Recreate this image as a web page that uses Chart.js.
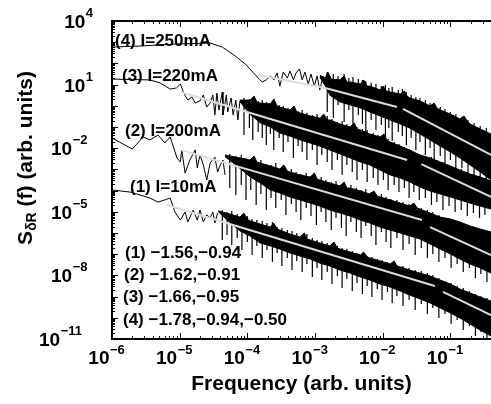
<!DOCTYPE html>
<html>
<head>
<meta charset="utf-8">
<script src="https://cdn.jsdelivr.net/npm/chart.js@4"></script>
<style>
  html, body { margin: 0; padding: 0; background: #fff; }
  canvas { display: block; }
</style>
</head>
<body>
<canvas id="c" width="491" height="404"></canvas>
<script>
// ---------- data (all values are log10 exponents) ----------
const xTickExps = [-6, -5, -4, -3, -2, -1];
const yTickExps = [4, 1, -2, -5, -8, -11];
const curveLabels = ['(1) I=10mA', '(2) I=200mA', '(3) I=220mA', '(4) I=250mA'];
const slopeLabels = ['(1) \u22121.56,\u22120.94', '(2) \u22121.62,\u22120.91', '(3) \u22121.66,\u22120.95', '(4) \u22121.78,\u22120.94,\u22120.50'];
const xTitle = 'Frequency (arb. units)';

// curve 4 : I=250mA
const c4LowF = [-6.00,-5.59,-5.07,-4.55,-4.37,-4.18,-4.03,-3.92,-3.84,-3.78,-3.72,-3.66,-3.61,-3.56,-3.52,-3.47,-3.41,-3.37,-3.32,-3.28,-3.23,-3.19,-3.15,-3.10,-3.06,-3.01,-2.97,-2.93,-2.88];
const c4LowS = [2.77,2.82,2.91,2.96,2.77,2.35,1.97,1.59,1.31,1.12,1.22,1.41,1.22,1.55,0.93,1.59,1.31,1.64,1.22,1.55,1.74,1.22,1.59,1.03,1.50,0.93,1.41,0.75,1.41];
const c4UpF = [-2.93,-2.85,-2.81,-2.76,-2.63,-2.57,-2.53,-2.48,-2.33,-2.28,-2.23,-2.19,-2.04,-1.99,-1.95,-1.89,-1.74,-1.68,-1.64,-1.60,-1.45,-1.30,-1.24,-1.20,-1.15,-1.00,-0.86,-0.80,-0.75,-0.71,-0.56,-0.40];
const c4UpS = [1.45,1.31,1.59,1.26,1.22,1.41,1.12,1.12,1.03,1.22,0.93,0.93,0.75,0.93,0.70,0.65,0.56,0.70,0.46,0.37,0.23,-0.01,0.13,-0.10,-0.20,-0.39,-0.62,-0.48,-0.72,-0.86,-1.09,-1.33];
const c4LoF = [-2.93,-2.85,-2.78,-2.63,-2.48,-2.33,-2.19,-2.04,-1.89,-1.74,-1.60,-1.45,-1.30,-1.15,-1.00,-0.86,-0.71,-0.56,-0.40];
const c4LoS = [1.35,0.95,0.50,0.18,0.04,-0.10,-0.29,-0.48,-0.67,-0.86,-1.05,-1.33,-1.61,-1.90,-2.18,-2.46,-2.79,-3.12,-3.50];
const c4SpkF = [-2.82,-2.73,-2.66,-2.57,-2.50,-2.44,-2.36,-2.30,-2.25,-2.17,-2.10,-2.02,-1.96,-1.91,-1.86,-1.77,-1.71,-1.65,-1.58,-1.51,-1.45,-1.37,-1.30,-1.24,-1.15,-1.08,-1.00,-0.92,-0.83,-0.74,-0.65,-0.56,-0.47];
const c4SpkHi = [1.59,1.50,1.41,1.50,1.31,1.36,1.26,1.22,1.17,1.08,1.03,0.93,0.98,0.84,0.89,0.75,0.79,0.65,0.51,0.42,0.37,0.27,0.13,0.08,-0.06,-0.15,-0.29,-0.39,-0.53,-0.67,-0.81,-0.95,-1.05];
const c4SpkLo = [-0.29,-0.58,0.04,-0.76,-0.20,-1.05,-0.43,-0.86,-1.28,-0.67,-1.14,-0.91,-1.52,-1.05,-1.66,-1.24,-1.42,-1.85,-1.52,-2.08,-1.71,-2.32,-1.99,-2.56,-2.37,-2.79,-2.56,-3.03,-2.93,-3.41,-3.31,-3.59,-3.69];
const c4FitF = [-3.84,-2.85, -2.85,-1.79, -1.70,-0.40];
const c4FitS = [1.45,0.84, 0.84,-0.06, -0.15,-2.32];

// curve 3 : I=220mA
const c3LowF = [-6.00,-5.44,-5.29,-5.14,-5.05,-4.99,-4.94,-4.88,-4.82,-4.77,-4.70,-4.65,-4.60,-4.55,-4.51,-4.48,-4.45,-4.42,-4.37,-4.36,-4.31,-4.29,-4.24,-4.21,-4.17,-4.14,-4.11];
const c3LowS = [1.26,1.22,1.08,0.79,0.84,1.03,0.60,0.27,0.42,0.13,0.23,0.51,-0.06,0.13,0.51,-0.43,0.60,-0.20,0.65,-0.43,0.51,-0.29,0.37,-0.43,0.27,-0.67,0.23];
const c3UpF = [-4.11,-3.96,-3.90,-3.86,-3.81,-3.66,-3.61,-3.56,-3.52,-3.37,-3.31,-3.27,-3.22,-3.07,-2.93,-2.87,-2.82,-2.78,-2.63,-2.48,-2.42,-2.38,-2.33,-2.19,-2.04,-1.98,-1.94,-1.89,-1.74,-1.60,-1.45,-1.30,-1.15,-1.00,-0.86,-0.71,-0.56,-0.40];
const c3UpS = [0.27,0.27,0.46,0.18,0.13,0.09,0.32,-0.01,-0.06,-0.20,-0.01,-0.29,-0.34,-0.48,-0.58,-0.39,-0.67,-0.67,-0.86,-1.00,-0.81,-1.09,-1.14,-1.33,-1.47,-1.33,-1.61,-1.71,-1.90,-2.09,-2.32,-2.46,-2.65,-2.84,-3.03,-3.22,-3.36,-3.55];
const c3LoF = [-4.11,-3.96,-3.81,-3.66,-3.52,-3.37,-3.22,-3.07,-2.93,-2.78,-2.63,-2.48,-2.33,-2.19,-2.04,-1.89,-1.74,-1.60,-1.45,-1.30,-1.15,-1.00,-0.86,-0.71,-0.56,-0.40];
const c3LoS = [0.20,-0.40,-0.80,-1.00,-1.28,-1.43,-1.61,-1.76,-1.90,-2.09,-2.27,-2.46,-2.65,-2.79,-3.03,-3.26,-3.41,-3.59,-3.83,-4.02,-4.16,-4.30,-4.44,-4.59,-4.73,-4.87];
const c3SpkF = [-4.05,-3.97,-3.92,-3.84,-3.78,-3.72,-3.66,-3.61,-3.53,-3.47,-3.40,-3.32,-3.25,-3.19,-3.12,-3.04,-2.97,-2.90,-2.82,-2.75,-2.67,-2.60,-2.53,-2.45,-2.38,-2.30,-2.23,-2.14,-2.07,-1.99,-1.92,-1.83,-1.76,-1.68,-1.61,-1.54,-1.46,-1.37,-1.28,-1.20,-1.11,-1.02,-0.93,-0.84,-0.75,-0.66,-0.57,-0.49];
const c3SpkHi = [0.37,0.32,0.42,0.23,0.27,0.18,0.13,0.32,0.04,-0.01,-0.10,-0.06,-0.25,-0.20,-0.34,-0.43,-0.39,-0.53,-0.48,-0.62,-0.76,-0.72,-0.86,-0.91,-1.00,-1.09,-1.14,-1.28,-1.38,-1.42,-1.57,-1.71,-1.80,-1.94,-2.04,-2.18,-2.27,-2.37,-2.42,-2.56,-2.65,-2.79,-2.89,-2.98,-3.12,-3.22,-3.31,-3.41];
const c3SpkLo = [-1.38,-1.05,-1.61,-1.24,-1.52,-1.85,-1.33,-2.08,-1.52,-2.18,-1.71,-2.46,-1.90,-2.18,-2.56,-2.08,-2.79,-2.32,-2.65,-3.03,-2.56,-3.26,-2.79,-3.12,-3.50,-3.03,-3.59,-3.41,-3.74,-3.50,-3.97,-3.74,-4.07,-3.88,-4.35,-4.07,-4.44,-4.35,-4.68,-4.54,-4.92,-4.73,-5.01,-4.92,-5.20,-5.06,-5.29,-5.15];
const c3FitF = [-4.99,-1.64, -1.43,-0.40];
const c3FitS = [0.65,-2.56, -2.75,-4.30];

// curve 2 : I=200mA
const c2LowF = [-6.00,-5.70,-5.54,-5.44,-5.32,-5.22,-5.14,-5.04,-4.99,-4.97,-4.92,-4.85,-4.77,-4.74,-4.70,-4.65,-4.60,-4.55,-4.48,-4.44,-4.40,-4.36,-4.33];
const c2LowS = [-1.52,-2.04,-1.47,-1.61,-1.38,-1.75,-1.47,-2.46,-2.65,-2.08,-3.17,-2.56,-2.08,-2.93,-2.32,-2.79,-3.50,-2.70,-2.42,-3.12,-2.79,-2.56,-3.26];
const c2UpF = [-4.33,-4.11,-3.96,-3.90,-3.86,-3.81,-3.66,-3.52,-3.46,-3.41,-3.37,-3.22,-3.07,-3.01,-2.97,-2.93,-2.78,-2.63,-2.57,-2.53,-2.48,-2.33,-2.19,-2.13,-2.08,-2.04,-1.89,-1.74,-1.60,-1.54,-1.49,-1.45,-1.30,-1.15,-1.00,-0.86,-0.71,-0.56,-0.40];
const c2UpS = [-2.32,-2.46,-2.56,-2.37,-2.65,-2.70,-2.84,-2.98,-2.79,-3.08,-3.12,-3.26,-3.36,-3.17,-3.45,-3.50,-3.64,-3.78,-3.59,-3.88,-3.88,-4.02,-4.16,-4.02,-4.26,-4.30,-4.44,-4.59,-4.73,-4.59,-4.82,-4.87,-5.06,-5.25,-5.34,-5.48,-5.67,-5.81,-5.95];
const c2LoF = [-4.33,-4.11,-3.96,-3.81,-3.66,-3.52,-3.37,-3.22,-3.07,-2.93,-2.78,-2.63,-2.48,-2.33,-2.19,-2.04,-1.89,-1.74,-1.60,-1.45,-1.30,-1.15,-1.00,-0.86,-0.71,-0.56,-0.40];
const c2LoS = [-2.40,-2.95,-3.35,-3.64,-3.97,-4.11,-4.30,-4.44,-4.59,-4.73,-4.92,-5.06,-5.20,-5.39,-5.53,-5.72,-5.86,-6.00,-6.14,-6.28,-6.52,-6.76,-6.99,-7.23,-7.46,-7.65,-7.89];
const c2SpkF = [-4.26,-4.17,-4.09,-4.02,-3.95,-3.87,-3.80,-3.72,-3.65,-3.58,-3.50,-3.43,-3.35,-3.28,-3.21,-3.13,-3.06,-2.98,-2.91,-2.84,-2.76,-2.69,-2.61,-2.54,-2.47,-2.39,-2.32,-2.25,-2.17,-2.10,-2.02,-1.95,-1.88,-1.79,-1.70,-1.61,-1.52,-1.43,-1.34,-1.26,-1.17,-1.08,-0.99,-0.90,-0.81,-0.72,-0.63,-0.55,-0.46];
const c2SpkHi = [-2.27,-2.37,-2.32,-2.46,-2.51,-2.60,-2.56,-2.75,-2.79,-2.70,-2.93,-3.03,-2.98,-3.12,-3.22,-3.17,-3.31,-3.41,-3.36,-3.50,-3.59,-3.55,-3.69,-3.78,-3.74,-3.88,-3.97,-3.92,-4.07,-4.21,-4.16,-4.30,-4.40,-4.44,-4.54,-4.63,-4.73,-4.82,-4.92,-5.01,-5.15,-5.29,-5.39,-5.48,-5.58,-5.72,-5.81,-5.91,-6.00];
const c2SpkLo = [-3.88,-4.21,-3.74,-4.44,-3.97,-4.68,-4.16,-4.92,-4.35,-4.82,-4.44,-5.15,-4.63,-5.01,-5.39,-4.82,-5.20,-5.62,-5.01,-5.48,-5.86,-5.29,-5.76,-6.14,-5.48,-5.95,-6.24,-5.67,-6.14,-6.57,-5.95,-6.42,-6.71,-6.24,-6.80,-6.52,-7.04,-6.71,-7.18,-6.99,-7.37,-7.18,-7.65,-7.46,-7.84,-7.65,-8.12,-7.93,-8.31];
const c2FitF = [-4.99,-1.42, -1.30,-0.40];
const c2FitS = [-2.08,-5.39, -5.72,-7.04];

// curve 1 : I=10mA
const c1LowF = [-6.00,-5.73,-5.44,-5.32,-5.22,-5.14,-5.07,-4.99,-4.92,-4.88,-4.80,-4.74,-4.70,-4.65,-4.60,-4.55,-4.51,-4.48,-4.44];
const c1LowS = [-3.97,-4.07,-4.35,-4.54,-4.44,-4.35,-5.01,-5.39,-5.01,-5.48,-4.92,-5.39,-4.92,-5.48,-5.15,-5.29,-5.01,-5.53,-5.06];
const c1UpF = [-4.43,-4.26,-4.11,-4.05,-4.00,-3.96,-3.81,-3.66,-3.61,-3.56,-3.52,-3.37,-3.22,-3.16,-3.12,-3.07,-2.93,-2.78,-2.72,-2.67,-2.63,-2.48,-2.33,-2.28,-2.23,-2.19,-2.04,-1.89,-1.83,-1.79,-1.74,-1.60,-1.45,-1.30,-1.15,-1.00,-0.86,-0.71,-0.56,-0.40];
const c1UpS = [-4.96,-5.10,-5.25,-5.06,-5.34,-5.43,-5.58,-5.72,-5.53,-5.81,-5.86,-6.05,-6.19,-6.00,-6.28,-6.33,-6.47,-6.61,-6.43,-6.71,-6.76,-6.90,-7.04,-6.90,-7.13,-7.18,-7.32,-7.46,-7.32,-7.56,-7.60,-7.75,-7.89,-8.03,-8.22,-8.41,-8.64,-8.83,-9.02,-9.21];
const c1LoF = [-4.43,-4.26,-4.11,-3.96,-3.81,-3.66,-3.52,-3.37,-3.22,-3.07,-2.93,-2.78,-2.63,-2.48,-2.33,-2.19,-2.04,-1.89,-1.74,-1.60,-1.45,-1.30,-1.15,-1.00,-0.86,-0.71,-0.56,-0.40];
const c1LoS = [-5.00,-5.50,-5.90,-6.14,-6.47,-6.61,-6.76,-6.94,-7.09,-7.23,-7.42,-7.56,-7.75,-7.89,-8.08,-8.22,-8.41,-8.55,-8.74,-8.93,-9.11,-9.30,-9.54,-9.77,-10.01,-10.29,-10.58,-10.86];
const c1SpkF = [-4.37,-4.30,-4.23,-4.15,-4.08,-4.00,-3.93,-3.86,-3.78,-3.71,-3.63,-3.56,-3.49,-3.41,-3.34,-3.27,-3.19,-3.12,-3.04,-2.97,-2.90,-2.82,-2.75,-2.67,-2.60,-2.53,-2.45,-2.38,-2.30,-2.23,-2.16,-2.08,-2.01,-1.93,-1.86,-1.79,-1.70,-1.61,-1.52,-1.43,-1.34,-1.26,-1.17,-1.08,-0.99,-0.90,-0.81,-0.72,-0.63,-0.55,-0.46];
const c1SpkHi = [-4.92,-5.01,-4.96,-5.10,-5.15,-5.20,-5.34,-5.39,-5.43,-5.53,-5.48,-5.72,-5.76,-5.86,-5.91,-6.00,-6.09,-6.05,-6.24,-6.33,-6.38,-6.47,-6.52,-6.61,-6.71,-6.75,-6.85,-6.94,-6.99,-7.08,-7.13,-7.23,-7.27,-7.37,-7.42,-7.51,-7.56,-7.65,-7.75,-7.79,-7.89,-7.98,-8.12,-8.26,-8.36,-8.50,-8.59,-8.74,-8.88,-8.97,-9.07];
const c1SpkLo = [-6.33,-6.09,-6.57,-6.24,-6.80,-6.42,-7.04,-6.61,-7.18,-6.80,-7.37,-6.94,-7.56,-7.18,-7.75,-7.32,-7.84,-7.46,-8.08,-7.65,-8.22,-7.84,-8.41,-8.03,-8.59,-8.17,-8.74,-8.36,-8.88,-8.50,-9.02,-8.64,-9.16,-8.78,-9.30,-8.97,-9.44,-9.16,-9.63,-9.35,-9.82,-9.54,-10.01,-9.82,-10.29,-10.10,-10.58,-10.39,-10.86,-10.67,-10.95];
const c1FitF = [-5.19,-1.23, -1.11,-0.40];
const c1FitS = [-4.68,-8.50, -8.78,-9.87];

// axis ranges (exponents)
const xRangeExp = [-6, -0.4];
const yRangeExp = [-11, 4];

// ---------- build datasets ----------
const P = v => Math.pow(10, v);
const pts = (fs, ss) => fs.map((f, i) => ({ x: P(f), y: P(ss[i]) }));
const spikePts = (fs, hi, lo) => {
  const out = [];
  fs.forEach((f, i) => { out.push({ x: P(f), y: P(hi[i]) }, { x: P(f), y: P(lo[i]) }, { x: P(f), y: null }); });
  return out;
};
const curves = [
  { lowF: c1LowF, lowS: c1LowS, upF: c1UpF, upS: c1UpS, loF: c1LoF, loS: c1LoS, spF: c1SpkF, spH: c1SpkHi, spL: c1SpkLo, fitF: c1FitF, fitS: c1FitS },
  { lowF: c2LowF, lowS: c2LowS, upF: c2UpF, upS: c2UpS, loF: c2LoF, loS: c2LoS, spF: c2SpkF, spH: c2SpkHi, spL: c2SpkLo, fitF: c2FitF, fitS: c2FitS },
  { lowF: c3LowF, lowS: c3LowS, upF: c3UpF, upS: c3UpS, loF: c3LoF, loS: c3LoS, spF: c3SpkF, spH: c3SpkHi, spL: c3SpkLo, fitF: c3FitF, fitS: c3FitS },
  { lowF: c4LowF, lowS: c4LowS, upF: c4UpF, upS: c4UpS, loF: c4LoF, loS: c4LoS, spF: c4SpkF, spH: c4SpkHi, spL: c4SpkLo, fitF: c4FitF, fitS: c4FitS }
];
const datasets = [];
curves.forEach(c => {
  datasets.push({ data: pts(c.upF, c.upS), borderColor: '#000', borderWidth: 1, fill: false, order: 3 });
  datasets.push({ data: pts(c.loF, c.loS), borderColor: '#000', borderWidth: 1, backgroundColor: '#000', fill: '-1', order: 3 });
  datasets.push({ data: spikePts(c.spF, c.spH, c.spL), borderColor: '#000', borderWidth: 1.2, fill: false, spanGaps: false, order: 2 });
  datasets.push({ data: pts(c.lowF, c.lowS), borderColor: '#000', borderWidth: 1, fill: false, order: 1 });
  for (let i = 0; i < c.fitF.length; i += 2) {
    datasets.push({ data: pts(c.fitF.slice(i, i + 2), c.fitS.slice(i, i + 2)), borderColor: '#dcdcdc', borderWidth: 2, fill: false, order: 0 });
  }
});

// ---------- decorations (axes, ticks, labels, titles) ----------
const FONT = '"Liberation Sans", Arial, Helvetica, sans-serif';
const fmtExp = e => (e < 0 ? '\u2212' + (-e) : String(e));
const decor = {
  id: 'decor',
  afterDraw(chart) {
    const { ctx, chartArea: a, scales: { x, y } } = chart;
    ctx.save();
    ctx.fillStyle = '#000';
    ctx.strokeStyle = '#000';
    ctx.lineWidth = 1;
    ctx.beginPath();
    for (let e = -7; e <= 1; e++) for (let m = 1; m <= 9; m++) {
      const v = m * P(e);
      if (v < x.min * 0.9999 || v > x.max * 1.0001) continue;
      const px = Math.round(x.getPixelForValue(v)) + 0.5;
      const len = m === 1 ? 6 : 3;
      ctx.moveTo(px, a.bottom); ctx.lineTo(px, a.bottom - len);
      ctx.moveTo(px, a.top); ctx.lineTo(px, a.top + len);
    }
    for (let e = -11; e <= 4; e++) for (let m = 1; m <= 9; m++) {
      const v = m * P(e);
      if (v < y.min * 0.9999 || v > y.max * 1.0001) continue;
      const py = Math.round(y.getPixelForValue(v)) + 0.5;
      const len = m === 1 ? 6 : 3;
      ctx.moveTo(a.left, py); ctx.lineTo(a.left + len, py);
    }
    ctx.stroke();
    ctx.lineWidth = 2;
    ctx.beginPath();
    ctx.moveTo(a.right + 2, a.top); ctx.lineTo(a.left, a.top);
    ctx.lineTo(a.left, a.bottom); ctx.lineTo(a.right + 2, a.bottom);
    ctx.stroke();

    const baseFont = 'bold 19px ' + FONT;
    const expFont = 'bold 13px ' + FONT;
    ctx.textBaseline = 'alphabetic';
    yTickExps.forEach(e => {
      const s = fmtExp(e);
      const py = y.getPixelForValue(P(e));
      const right = 93 - (s.length - 1) * 5.5;
      ctx.font = expFont;
      const ew = ctx.measureText(s).width;
      ctx.textAlign = 'left';
      ctx.fillText(s, right - ew, py - 4);
      ctx.font = baseFont;
      ctx.textAlign = 'right';
      ctx.fillText('10', right - ew - 0.5, py + 7);
    });
    xTickExps.forEach(e => {
      const s = fmtExp(e);
      const px = x.getPixelForValue(P(e));
      ctx.font = baseFont;
      ctx.textAlign = 'right';
      ctx.fillText('10', px - 2.5, a.bottom + 25);
      ctx.font = expFont;
      ctx.textAlign = 'left';
      ctx.fillText(s, px - 2, a.bottom + 15);
    });
    ctx.font = 'bold 21px ' + FONT;
    ctx.textAlign = 'center';
    ctx.fillText(xTitle, (a.left + a.right) / 2, 390);
    ctx.save();
    ctx.translate(32, 158);
    ctx.rotate(-Math.PI / 2);
    ctx.textAlign = 'left';
    const mainF = 'bold 21px ' + FONT, subF = 'bold 14px ' + FONT;
    ctx.font = mainF; const w1 = ctx.measureText('S').width;
    ctx.font = subF; const w2 = ctx.measureText('\u03b4R').width;
    ctx.font = mainF; const w3 = ctx.measureText(' (f) (arb. units)').width;
    let tx = -(w1 + w2 + w3) / 2;
    ctx.font = mainF; ctx.fillText('S', tx, 0); tx += w1;
    ctx.font = subF; ctx.fillText('\u03b4R', tx, 4); tx += w2;
    ctx.font = mainF; ctx.fillText(' (f) (arb. units)', tx, 0);
    ctx.restore();
    ctx.font = 'bold 17px ' + FONT;
    ctx.textAlign = 'left';
    ctx.textBaseline = 'middle';
    const curvePos = [[130, 187], [125, 131], [122, 76], [115, 41]];
    curveLabels.forEach((t, i) => ctx.fillText(t, curvePos[i][0], curvePos[i][1]));
    const slopePos = [[125, 253], [124, 275], [123, 297], [123, 320]];
    slopeLabels.forEach((t, i) => ctx.fillText(t, slopePos[i][0], slopePos[i][1]));
    ctx.restore();
  }
};

new Chart(document.getElementById('c'), {
  type: 'line',
  data: { datasets },
  options: {
    responsive: false,
    animation: false,
    layout: { padding: { left: 112, top: 21, right: 0, bottom: 65 } },
    elements: { point: { radius: 0, hoverRadius: 0 }, line: { tension: 0 } },
    scales: {
      x: { type: 'logarithmic', display: false, bounds: 'data', min: P(xRangeExp[0]), max: P(xRangeExp[1]) },
      y: { type: 'logarithmic', display: false, bounds: 'data', min: P(yRangeExp[0]), max: P(yRangeExp[1]) }
    },
    plugins: { legend: { display: false }, tooltip: { enabled: false } }
  },
  plugins: [decor]
});
</script>
</body>
</html>
